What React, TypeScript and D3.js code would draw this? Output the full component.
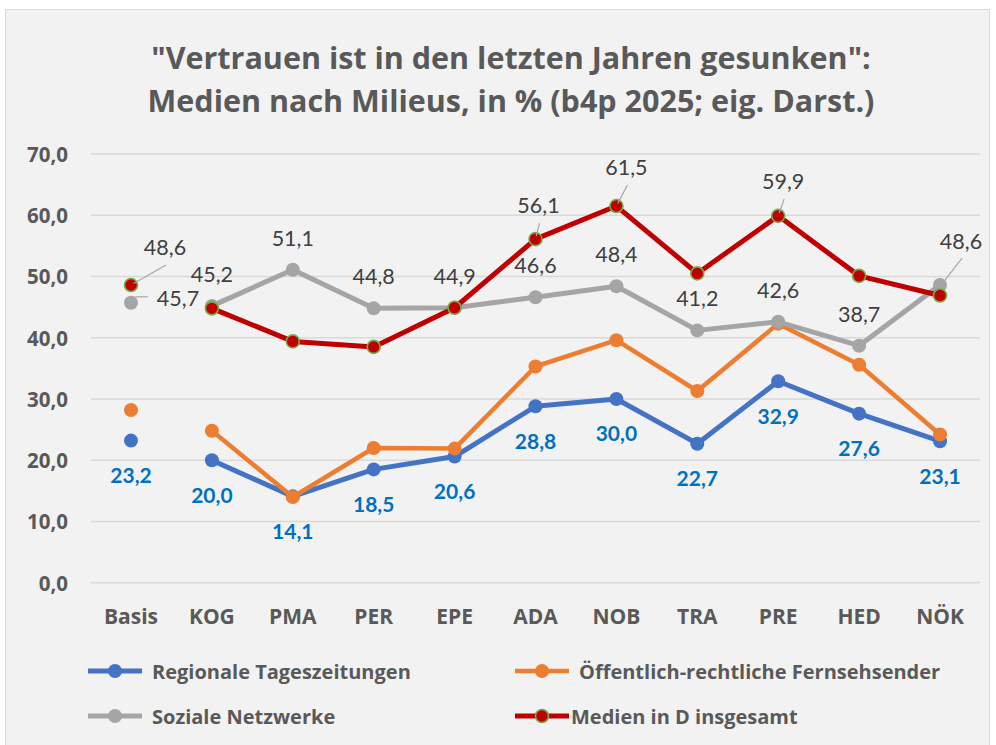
import React, { useEffect, useRef } from 'react';
import * as d3 from 'd3';

// Milieus (b4p 2025)
const categories = ['Basis', 'KOG', 'PMA', 'PER', 'EPE', 'ADA', 'NOB', 'TRA', 'PRE', 'HED', 'NÖK'];
const regionale = [23.2, 20.0, 14.1, 18.5, 20.6, 28.8, 30.0, 22.7, 32.9, 27.6, 23.1];
const oeffentlich = [28.2, 24.8, 14.0, 22.0, 21.9, 35.3, 39.6, 31.3, 42.3, 35.6, 24.2];
const sozial = [45.7, 45.2, 51.1, 44.8, 44.9, 46.6, 48.4, 41.2, 42.6, 38.7, 48.6];
const gesamt = [48.6, 44.8, 39.4, 38.5, 44.9, 56.1, 61.5, 50.5, 59.9, 50.1, 46.9];
const yTicks = [0, 10, 20, 30, 40, 50, 60, 70];
const seriesNames = ['Regionale Tageszeitungen', 'Öffentlich-rechtliche Fernsehsender', 'Soziale Netzwerke', 'Medien in D insgesamt'];
const gesamtLabeled = ['Basis', 'ADA', 'NOB', 'PRE'];

const FONT = '"Open Sans", Lato, sans-serif';
const NUMFONT = 'Lato, "Open Sans", sans-serif';
const fmt = (v: number) => d3.format('.1f')(v).replace('.', ',');

export default function App() {
  const ref = useRef<SVGSVGElement>(null);

  useEffect(() => {
    const svg = d3.select(ref.current);
    svg.selectAll('*').remove();

    // frame
    svg.append('rect')
      .attr('x', 5.5).attr('y', 9.5)
      .attr('width', 984).attr('height', 740)
      .attr('fill', '#F2F2F2')
      .attr('stroke', '#D9D9D9');

    // title
    const title = svg.append('text')
      .attr('text-anchor', 'middle')
      .attr('font-family', FONT)
      .attr('font-weight', 'bold')
      .attr('font-size', 30.5)
      .attr('fill', '#595959');
    title.append('tspan').attr('x', 511).attr('y', 69).text('"Vertrauen ist in den letzten Jahren gesunken":');
    title.append('tspan').attr('x', 511).attr('y', 112).text('Medien nach Milieus, in % (b4p 2025; eig. Darst.)');

    var x = d3.scalePoint<string>().domain(categories).range([131, 940]);
    var y = d3.scaleLinear().domain([0, 70]).range([582.7, 154]);

    // grid + y labels
    svg.append('g').selectAll('line')
      .data(yTicks).enter().append('line')
      .attr('x1', 91).attr('x2', 980)
      .attr('y1', d => y(d)).attr('y2', d => y(d))
      .attr('stroke', '#D9D9D9').attr('stroke-width', 1.5);

    svg.append('g').selectAll('text')
      .data(yTicks).enter().append('text')
      .attr('x', 68).attr('y', d => y(d))
      .attr('text-anchor', 'end')
      .attr('dominant-baseline', 'central')
      .attr('font-family', FONT).attr('font-weight', 'bold').attr('font-size', 20.5)
      .attr('fill', '#595959')
      .text(d => fmt(d));

    // x labels
    svg.append('g').selectAll('text')
      .data(categories).enter().append('text')
      .attr('x', d => x(d)!).attr('y', 616)
      .attr('text-anchor', 'middle')
      .attr('dominant-baseline', 'central')
      .attr('font-family', FONT).attr('font-weight', 'bold').attr('font-size', 21)
      .attr('fill', '#595959')
      .text(d => d);

    const series = [
      { name: seriesNames[0], values: regionale, color: '#4472C4', width: 5, r: 7, stroke: null },
      { name: seriesNames[1], values: oeffentlich, color: '#ED7D31', width: 4.5, r: 7, stroke: null },
      { name: seriesNames[2], values: sozial, color: '#A5A5A5', width: 5, r: 7, stroke: null },
      { name: seriesNames[3], values: gesamt, color: '#C00000', width: 5, r: 6.5, stroke: '#70AD47' },
    ];

    const line = d3.line<number>()
      .defined((d, i) => i > 0)
      .x((d, i) => x(categories[i])!)
      .y(d => y(d));

    series.forEach(s => {
      const g = svg.append('g');
      g.append('path')
        .datum(s.values)
        .attr('d', line)
        .attr('fill', 'none')
        .attr('stroke', s.color)
        .attr('stroke-width', s.width)
        .attr('stroke-linejoin', 'round');
      g.selectAll('circle')
        .data(s.values).enter().append('circle')
        .attr('cx', (d, i) => x(categories[i])!)
        .attr('cy', d => y(d))
        .attr('r', s.r)
        .attr('fill', s.color)
        .attr('stroke', s.stroke || 'none')
        .attr('stroke-width', 1.6);
    });

    // data labels
    const labels = svg.append('g').attr('font-family', NUMFONT);

    function leader(x1: number, y1: number, x2: number, y2: number) {
      labels.append('line')
        .attr('x1', x1).attr('y1', y1).attr('x2', x2).attr('y2', y2)
        .attr('stroke', '#A6A6A6').attr('stroke-width', 1.2);
    }

    // blue labels below
    regionale.forEach((v, i) => {
      labels.append('text')
        .attr('x', x(categories[i])!).attr('y', y(v) + 34)
        .attr('text-anchor', 'middle').attr('dominant-baseline', 'central')
        .attr('font-weight', 'bold').attr('font-size', 21)
        .attr('fill', '#0070C0')
        .text(fmt(v));
    });

    // gray labels above
    const grayOffset: Record<string, [number, number]> = { Basis: [47, -5], 'NÖK': [21, -44] };
    sozial.forEach((v, i) => {
      const c = categories[i];
      const px = x(c)!, py = y(v);
      const off = grayOffset[c] || [0, -32];
      const lx = px + off[0], ly = py + off[1];
      if (c === 'Basis') leader(lx - 30, ly - 1, px + 4, ly - 1);
      if (c === 'NÖK') leader(lx + 1, ly + 17, px + 5, py - 5);
      labels.append('text')
        .attr('x', lx).attr('y', ly)
        .attr('text-anchor', 'middle').attr('dominant-baseline', 'central')
        .attr('font-size', 21.5)
        .attr('fill', '#404040')
        .text(fmt(v));
    });

    // red labels with leader lines
    const redOffset: Record<string, [number, number]> = { Basis: [34, -38], ADA: [3, -34], NOB: [10, -39], PRE: [5, -35] };
    gesamt.forEach((v, i) => {
      const c = categories[i];
      if (gesamtLabeled.indexOf(c) < 0) return;
      const px = x(c)!, py = y(v);
      const off = redOffset[c];
      const lx = px + off[0], ly = py + off[1];
      const ex = lx + 1, ey = ly + 18;
      const ang = Math.atan2(ey - py, ex - px);
      leader(ex, ey, px + Math.cos(ang) * 3, py + Math.sin(ang) * 3);
      labels.append('text')
        .attr('x', lx).attr('y', ly)
        .attr('text-anchor', 'middle').attr('dominant-baseline', 'central')
        .attr('font-size', 21.5)
        .attr('fill', '#404040')
        .text(fmt(v));
    });

    // legend
    const legendPos = [[88, 671], [515, 671], [88, 716], [515, 716]];
    series.forEach((s, i) => {
      const [lx, ly] = legendPos[i];
      const g = svg.append('g');
      g.append('line')
        .attr('x1', lx).attr('x2', lx + 54)
        .attr('y1', ly).attr('y2', ly)
        .attr('stroke', s.color).attr('stroke-width', s.width);
      g.append('circle')
        .attr('cx', lx + 27).attr('cy', ly).attr('r', s.r)
        .attr('fill', s.color)
        .attr('stroke', s.stroke || 'none').attr('stroke-width', 1.6);
      g.append('text')
        .attr('x', lx + (i === 3 ? 56 : 64)).attr('y', ly)
        .attr('dominant-baseline', 'central')
        .attr('font-family', FONT).attr('font-weight', 'bold').attr('font-size', 20)
        .attr('fill', '#595959')
        .text(s.name);
    });
  }, []);

  return (
    <div style={{ position: 'absolute', left: 0, top: 0 }}>
      <svg ref={ref} width={996} height={745} style={{ display: 'block', background: '#FFFFFF' }} />
    </div>
  );
}
